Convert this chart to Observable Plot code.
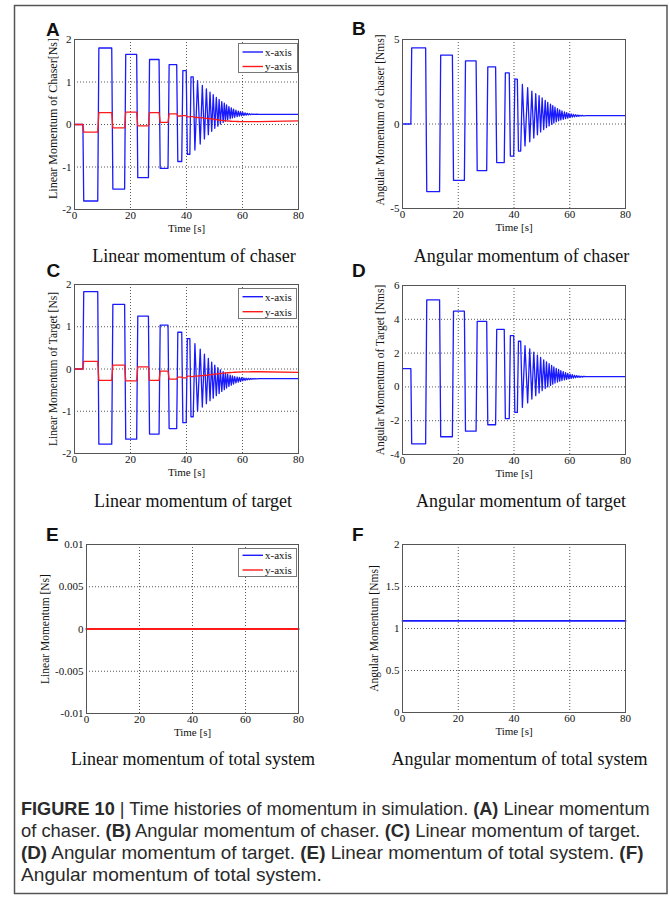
<!DOCTYPE html>
<html>
<head>
<meta charset="utf-8">
<script src="https://cdn.jsdelivr.net/npm/d3@7"></script>
<script src="https://cdn.jsdelivr.net/npm/@observablehq/plot@0.6"></script>
<style>
html,body{margin:0;padding:0;background:#fff;overflow:hidden;}
#fig{position:relative;width:669px;height:903px;overflow:hidden;background:#fff;}
</style>
</head>
<body>
<div id="fig"></div>
<script>
// ---------------- DATA ----------------
const xTicks = [0, 20, 40, 60, 80];

// shared time vertices [s] for panels A-D
const time = [
  0, 3.0, 3.3, 8.3, 8.7, 13.3, 13.7, 17.9, 18.3, 22.2, 22.6, 26.4, 26.8, 30.2, 30.6, 33.4, 33.8, 36.5, 36.9, 38.3, 38.7, 39.9, 40.3, 41.2, 41.6, 42.4,
  43.0, 43.95, 44.9, 45.65, 46.4, 47.1, 47.8, 48.4, 49.0, 49.55, 50.1, 50.65, 51.2, 51.65, 52.1, 52.6, 53.1, 53.5, 53.9, 54.3,
  54.7, 55.15, 55.6, 56.0, 56.4, 56.8, 57.2, 57.65, 58.1, 58.5, 58.9, 59.3, 59.7, 60.1, 60.5, 60.9, 61.3, 61.7, 62.1, 62.5,
  62.9, 63.3, 63.7, 64.1, 64.5, 64.9,
  66, 80
];

// (A) Linear momentum of chaser [Ns]
const linChaserX = [
  0, 0, -1.80, -1.80, 1.80, 1.80, -1.52, -1.52, 1.65, 1.65, -1.25, -1.25, 1.53, 1.53, -1.03, -1.03, 1.41, 1.41, -0.87, -0.87, 1.27, 1.27, -0.70, -0.70, 1.12, 1.12,
  -0.60, 1.03, -0.46, 0.92, -0.34, 0.84, -0.24, 0.76, -0.16, 0.70, -0.09, 0.64, -0.04, 0.59, 0.01, 0.54, 0.05, 0.50, 0.08, 0.46,
  0.11, 0.42, 0.135, 0.39, 0.155, 0.36, 0.17, 0.335, 0.185, 0.315, 0.195, 0.30, 0.205, 0.285, 0.213, 0.273, 0.22, 0.263, 0.226, 0.255,
  0.231, 0.249, 0.235, 0.245, 0.238, 0.242,
  0.24, 0.24
];
const linChaserY = [
  0, 0, -0.18, -0.18, 0.28, 0.28, -0.08, -0.08, 0.29, 0.29, -0.03, -0.03, 0.28, 0.28, 0.05, 0.05, 0.25, 0.25, 0.20, 0.20, 0.21, 0.21, 0.18, 0.18, 0.185, 0.185,
  0.165, 0.17, 0.155, 0.16, 0.145, 0.15, 0.135, 0.14, 0.125, 0.13, 0.115, 0.12, 0.105, 0.11, 0.098, 0.10, 0.09, 0.093, 0.085, 0.087,
  0.08, 0.082, 0.077, 0.078, 0.074, 0.075, 0.072, 0.073, 0.071, 0.071, 0.07, 0.07, 0.07, 0.07, 0.07, 0.07, 0.07, 0.07, 0.07, 0.07,
  0.07, 0.07, 0.07, 0.07, 0.07, 0.07,
  0.07, 0.085
];

// (B) Angular momentum of chaser [Nms]
const angChaser = [
  0, 0, 4.50, 4.50, -4.00, -4.00, 4.08, 4.08, -3.33, -3.33, 3.74, 3.74, -2.76, -2.76, 3.38, 3.38, -2.28, -2.28, 3.02, 3.02, -1.90, -1.90, 2.65, 2.65, -1.60, -1.60,
  2.34, -1.30, 2.15, -1.05, 1.95, -0.83, 1.79, -0.64, 1.68, -0.47, 1.54, -0.33, 1.40, -0.21, 1.28, -0.11, 1.18, -0.02, 1.09, 0.06,
  0.99, 0.13, 0.91, 0.19, 0.83, 0.24, 0.77, 0.28, 0.71, 0.32, 0.67, 0.35, 0.63, 0.38, 0.60, 0.405, 0.57, 0.425, 0.55, 0.445,
  0.53, 0.46, 0.515, 0.475, 0.505, 0.485,
  0.49, 0.49
];

// (C) Linear momentum of target [Ns]
const linTargetX = [
  0, 0, 1.83, 1.83, -1.78, -1.78, 1.53, 1.53, -1.66, -1.66, 1.25, 1.25, -1.54, -1.54, 1.04, 1.04, -1.41, -1.41, 0.87, 0.87, -1.27, -1.27, 0.72, 0.72, -1.13, -1.13,
  0.60, -1.00, 0.47, -0.90, 0.35, -0.82, 0.25, -0.75, 0.16, -0.69, 0.09, -0.63, 0.03, -0.58, -0.02, -0.53, -0.06, -0.49, -0.095, -0.45,
  -0.12, -0.41, -0.145, -0.38, -0.165, -0.355, -0.18, -0.33, -0.19, -0.31, -0.20, -0.295, -0.207, -0.28, -0.213, -0.268, -0.218, -0.258, -0.222, -0.25,
  -0.225, -0.243, -0.227, -0.236, -0.228, -0.232,
  -0.23, -0.23
];
const linTargetY = [
  0, 0, 0.18, 0.18, -0.27, -0.27, 0.09, 0.09, -0.28, -0.28, 0.05, 0.05, -0.27, -0.27, -0.05, -0.05, -0.24, -0.24, -0.19, -0.19, -0.21, -0.21, -0.17, -0.17, -0.18, -0.18,
  -0.165, -0.17, -0.155, -0.16, -0.145, -0.15, -0.135, -0.14, -0.125, -0.13, -0.118, -0.122, -0.11, -0.114, -0.103, -0.106, -0.097, -0.099, -0.092, -0.094,
  -0.087, -0.089, -0.083, -0.085, -0.079, -0.08, -0.076, -0.077, -0.073, -0.074, -0.071, -0.072, -0.07, -0.07, -0.068, -0.068, -0.067, -0.067, -0.066, -0.066,
  -0.065, -0.065, -0.065, -0.065, -0.065, -0.065,
  -0.065, -0.08
];

// (D) Angular momentum of target [Nms]
const angTarget = [
  1.08, 1.08, -3.37, -3.37, 5.15, 5.15, -2.95, -2.95, 4.48, 4.48, -2.62, -2.62, 3.88, 3.88, -2.24, -2.24, 3.40, 3.40, -1.88, -1.88, 3.03, 3.03, -1.51, -1.51, 2.70, 2.70,
  -1.21, 2.44, -0.95, 2.25, -0.72, 2.05, -0.52, 1.88, -0.36, 1.74, -0.22, 1.60, -0.10, 1.48, 0.00, 1.37, 0.09, 1.27, 0.16, 1.18,
  0.23, 1.10, 0.29, 1.03, 0.34, 0.96, 0.38, 0.90, 0.42, 0.85, 0.45, 0.80, 0.48, 0.76, 0.50, 0.72, 0.52, 0.69, 0.54, 0.665,
  0.56, 0.645, 0.57, 0.63, 0.58, 0.62,
  0.61, 0.61
];

// (E),(F) totals
const timeTotal = [0, 80];
const linTotalX = [0, 0];
const linTotalY = [0, 0];
const angTotal = [1.09, 1.09];

const seriesNames = ["x-axis", "y-axis"];
const seriesColors = ["#1a1aff", "#ff1a1a"];

// ---------------- LAYOUT ----------------
const fig = document.getElementById("fig");
const serif = '"Liberation Serif","Times New Roman",Times,serif';
const sans = '"Liberation Sans",Arial,Helvetica,sans-serif';

const panels = [
  {letter:"A", lx:46, ly:36, left:0, top:0, w:335, ml:74, mr:37, mt:39, mb:51,
   yDomain:[-2,2], yTicks:[-2,-1,0,1,2], yLabel:"Linear Momentum of Chaser[Ns]", ydx:-21, ydy:-6, yfs:12, lw:1.3,
   sub:"Linear momentum of chaser", sx:194, sy:262,
   series:[{name:"x-axis", t:time, v:linChaserX},{name:"y-axis", t:time, v:linChaserY}],
   legend:{x:238, y:43, w:60, h:30, r1:9, r2:23.5}},
  {letter:"B", lx:352, ly:35, left:335, top:0, w:334, ml:67, mr:44, mt:39, mb:52,
   yDomain:[-5,5], yTicks:[-5,0,5], yLabel:"Angular Momentum of chaser [Nms]", ydx:-22, ydy:-4, yfs:11.5, lw:1.3,
   sub:"Angular momentum of chaser", sx:521.5, sy:262,
   series:[{name:"x-axis", t:time, v:angChaser}]},
  {letter:"C", lx:46.5, ly:277, left:0, top:260, w:335, ml:74, mr:37, mt:24, mb:67,
   yDomain:[-2,2], yTicks:[-2,-1,0,1,2], yLabel:"Linear Momentum of Target [Ns]", ydx:-21, ydy:0, yfs:11.5, lw:1.3,
   sub:"Linear momentum of target", sx:193, sy:507,
   series:[{name:"x-axis", t:time, v:linTargetX},{name:"y-axis", t:time, v:linTargetY}],
   legend:{x:238, y:288, w:59, h:31, r1:8.7, r2:23.7}},
  {letter:"D", lx:352, ly:277, left:335, top:260, w:334, ml:67, mr:44, mt:25, mb:66,
   yDomain:[-4,6], yTicks:[-4,-2,0,2,4,6], yLabel:"Angular Momentum of Target [Nms]", ydx:-22, ydy:0, yfs:11.5, lw:1.3,
   sub:"Angular momentum of target", sx:521, sy:507,
   series:[{name:"x-axis", t:time, v:angTarget}]},
  {letter:"E", lx:46, ly:541, left:0, top:520, w:335, ml:86, mr:37, mt:24, mb:67,
   yDomain:[-0.01,0.01], yTicks:[-0.01,-0.005,0,0.005,0.01], yLabel:"Linear Momentum [Ns]", ydx:-41, ydy:0, yfs:11.5, lw:1.8,
   sub:"Linear momentum of total system", sx:193, sy:765,
   series:[{name:"x-axis", t:timeTotal, v:linTotalX},{name:"y-axis", t:timeTotal, v:linTotalY}],
   legend:{x:238, y:548, w:59, h:29, r1:7.3, r2:22}},
  {letter:"F", lx:352, ly:541, left:335, top:520, w:334, ml:67, mr:44, mt:24, mb:68,
   yDomain:[0,2], yTicks:[0,0.5,1,1.5,2], yLabel:"Angular Momentum [Nms]", ydx:-28, ydy:0, yfs:11.5, lw:1.8,
   sub:"Angular momentum of total system", sx:519.5, sy:765,
   series:[{name:"x-axis", t:timeTotal, v:angTotal}]}
];

// ---------------- OVERLAY (frame, letters, subtitles, caption) ----------------
const over = d3.create("svg")
  .attr("width", 669).attr("height", 903)
  .style("position", "absolute").style("left", "0px").style("top", "0px");
over.append("rect").attr("x", 14.5).attr("y", 5.5).attr("width", 652.5).attr("height", 888)
  .attr("fill", "none").attr("stroke", "#555").attr("stroke-width", 1.5);

for (const p of panels) {
  over.append("text").attr("x", p.lx).attr("y", p.ly).text(p.letter)
    .attr("font-family", sans).attr("font-weight", "bold").attr("font-size", 19).attr("fill", "#111");
  over.append("text").attr("x", p.sx).attr("y", p.sy).text(p.sub)
    .attr("font-family", serif).attr("font-size", 18).attr("fill", "#111").attr("text-anchor", "middle");
}

const captionLines = [
  [["FIGURE 10", true], [" | Time histories of momentum in simulation. ", false], ["(A)", true], [" Linear momentum", false]],
  [["of chaser. ", false], ["(B)", true], [" Angular momentum of chaser. ", false], ["(C)", true], [" Linear momentum of target.", false]],
  [["(D)", true], [" Angular momentum of target. ", false], ["(E)", true], [" Linear momentum of total system. ", false], ["(F)", true]],
  [["Angular momentum of total system.", false]]
];
const captionWidths = [629, 620, 623, 301];
const captionBase = [814.5, 836.5, 858.5, 880.5];
const capNodes = [];
captionLines.forEach((line, i) => {
  const t = over.append("text")
    .attr("font-family", '"Liberation Sans Narrow","Arial Narrow","Liberation Sans",Arial,sans-serif')
    .attr("font-size", 18).attr("fill", "#2a2a2a")
    .attr("xml:space", "preserve").style("white-space", "pre")
    .attr("transform", `translate(21,${captionBase[i]})`);
  for (const [s, b] of line) {
    t.append("tspan").attr("font-weight", b ? "bold" : "normal").text(s);
  }
  capNodes.push(t);
});
fig.appendChild(over.node());
capNodes.forEach((t, i) => {
  const w = t.node().getComputedTextLength();
  if (w > 0) t.attr("transform", `translate(21,${captionBase[i]}) scale(${captionWidths[i] / w},1)`);
});

// ---------------- PANELS ----------------
const fmt = d => String(d);
for (const p of panels) {
  const rows = p.series.flatMap(s => s.t.map((t, i) => ({t, v: s.v[i], axis: s.name})));
  const gridStyle = {stroke: "#222", strokeOpacity: 0.85, strokeDasharray: "1,2", strokeWidth: 0.9};
  const svg = Plot.plot({
    width: p.w, height: 260,
    marginLeft: p.ml, marginRight: p.mr, marginTop: p.mt, marginBottom: p.mb,
    style: {fontFamily: serif, fontSize: "11px", color: "#111", background: "transparent", overflow: "visible"},
    x: {domain: [0, 80]},
    y: {domain: p.yDomain},
    color: {domain: seriesNames, range: seriesColors},
    marks: [
      Plot.gridX(xTicks, gridStyle),
      Plot.gridY(p.yTicks, gridStyle),
      Plot.line(rows, {x: "t", y: "v", z: "axis", stroke: "axis", strokeWidth: p.lw}),
      Plot.frame({stroke: "#555", strokeWidth: 1}),
      Plot.axisX(xTicks, {tickSize: 0, tickPadding: 2, tickFormat: fmt, label: null, fontSize: 11}),
      Plot.axisY(p.yTicks, {tickSize: 0, tickPadding: 3, tickFormat: fmt, label: null, fontSize: 11}),
      Plot.text(["Time [s]"], {frameAnchor: "bottom", dy: 19, text: d => d, lineAnchor: "middle", textAnchor: "middle", fontSize: 11}),
      Plot.text([p.yLabel], {frameAnchor: "left", dx: p.ydx, dy: p.ydy, rotate: -90, text: d => d, lineAnchor: "middle", textAnchor: "middle", fontSize: p.yfs})
    ]
  });
  const wrap = document.createElement("div");
  wrap.style.position = "absolute";
  wrap.style.left = p.left + "px";
  wrap.style.top = p.top + "px";
  wrap.appendChild(svg);
  fig.appendChild(wrap);

  if (p.legend) {
    const L = p.legend;
    const lg = d3.create("svg").attr("width", L.w).attr("height", L.h)
      .style("position", "absolute").style("left", L.x + "px").style("top", L.y + "px");
    lg.append("rect").attr("x", 0.5).attr("y", 0.5).attr("width", L.w - 1).attr("height", L.h - 1)
      .attr("fill", "#fff").attr("stroke", "#777");
    [L.r1, L.r2].forEach((ry, i) => {
      lg.append("line").attr("x1", 4.5).attr("x2", 25).attr("y1", ry).attr("y2", ry)
        .attr("stroke", seriesColors[i]).attr("stroke-width", 1.4);
      lg.append("text").attr("x", 27).attr("y", ry).attr("dy", "0.35em").text(seriesNames[i])
        .attr("font-family", serif).attr("font-size", 11).attr("fill", "#111");
    });
    fig.appendChild(lg.node());
  }
}
</script>
</body>
</html>
